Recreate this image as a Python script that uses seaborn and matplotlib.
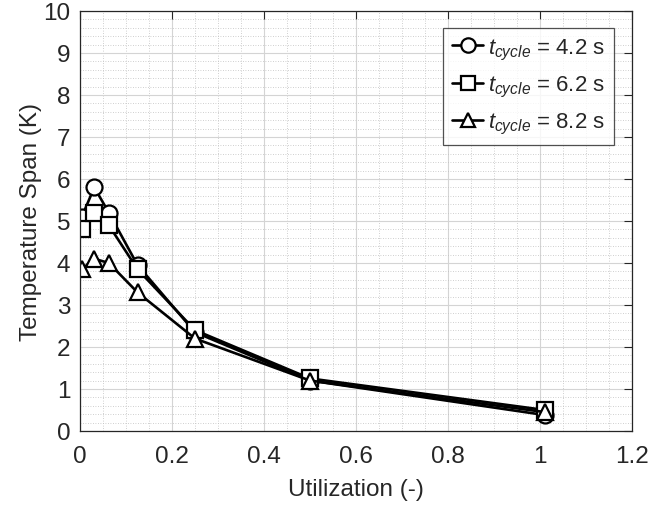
import numpy as np
import pandas as pd
import matplotlib
matplotlib.use("Agg")
import matplotlib.pyplot as plt
from matplotlib.ticker import MultipleLocator
import seaborn as sns

utilization = [0.004, 0.031, 0.0625, 0.125, 0.25, 0.5, 1.01]
span_42 = [5.1, 5.8, 5.2, 3.95, 2.35, 1.2, 0.38]
span_62 = [4.8, 5.2, 4.9, 3.85, 2.4, 1.25, 0.5]
span_82 = [3.85, 4.1, 4.0, 3.3, 2.2, 1.2, 0.45]
labels = [r"$t_{cycle}$ = 4.2 s", r"$t_{cycle}$ = 6.2 s", r"$t_{cycle}$ = 8.2 s"]
xtick_labels = ["0", "0.2", "0.4", "0.6", "0.8", "1", "1.2"]

sns.set_style("white")
plt.rcParams['font.family'] = ['Liberation Sans', 'DejaVu Sans']
plt.rcParams['mathtext.fontset'] = 'custom'
plt.rcParams['mathtext.it'] = 'Liberation Sans:italic'
plt.rcParams['mathtext.rm'] = 'Liberation Sans'

df = pd.DataFrame({
    "Utilization": utilization * 3,
    "Span": span_42 + span_62 + span_82,
    "Series": [labels[0]] * 7 + [labels[1]] * 7 + [labels[2]] * 7,
})

fig = plt.figure(figsize=(6.63, 5.10), dpi=100)
ax = fig.add_axes([0.1207, 0.153, 0.8326, 0.8235])

sns.lineplot(data=df, x="Utilization", y="Span", hue="Series", style="Series",
             markers=["o", "s", "^"], dashes=False,
             palette=["black", "black", "black"], linewidth=1.9,
             markersize=11.5, markerfacecolor="white", markeredgecolor="black",
             markeredgewidth=1.6, ax=ax, sort=False)

ax.set_xlim(0, 1.2)
ax.set_ylim(0, 10)
ax.set_xticks(np.arange(0, 1.21, 0.2))
ax.set_xticklabels(xtick_labels)
ax.xaxis.set_minor_locator(MultipleLocator(0.05))
ax.yaxis.set_major_locator(MultipleLocator(1))
ax.yaxis.set_minor_locator(MultipleLocator(0.2))
ax.grid(True, which="major", color="#d4d4d4", linewidth=0.8, linestyle="-")
ax.grid(True, which="minor", color="#c0c0c0", linewidth=0.6, linestyle=(0, (1, 2)))
ax.set_axisbelow(True)
ax.tick_params(which="major", direction="in", length=6, top=True, right=True,
               labelsize=17.5, colors="#262626")
ax.tick_params(axis="x", which="major", pad=10)
ax.tick_params(axis="y", which="major", pad=7)
ax.tick_params(which="minor", length=0)
for s in ax.spines.values():
    s.set_color("#262626")
    s.set_linewidth(0.9)
ax.set_xlabel("Utilization (-)", fontsize=17.5, color="#262626", labelpad=8)
ax.set_ylabel("Temperature Span (K)", fontsize=17.5, color="#262626", labelpad=1)

leg = ax.legend(loc="upper right", bbox_to_anchor=(0.967, 0.96), fontsize=16,
                frameon=True, fancybox=False, edgecolor="#262626",
                handlelength=1.4, handletextpad=0.2, borderpad=0.4,
                labelspacing=0.55, borderaxespad=0.0, markerscale=0.9)
leg.get_frame().set_linewidth(0.9)
fig.savefig("out.png", dpi=100)
